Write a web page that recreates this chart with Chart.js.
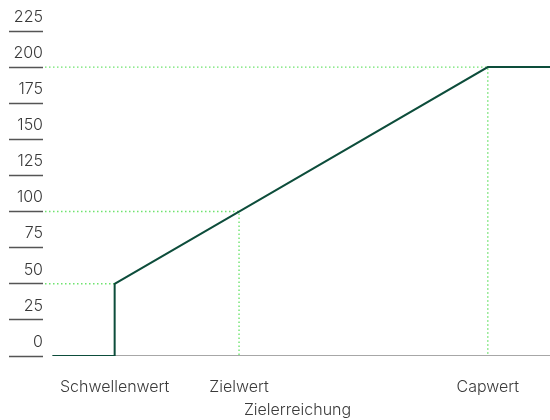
<!DOCTYPE html>
<html>
<head>
<meta charset="utf-8">
<script src="https://cdn.jsdelivr.net/npm/chart.js@4/dist/chart.umd.min.js"></script>
<style>
  html, body { margin: 0; padding: 0; background: #fff; }
  #wrap { width: 550px; height: 420px; }
</style>
</head>
<body>
<div id="wrap"><canvas id="myChart"></canvas></div>
<script>
// Zielerreichung (x, in %) and Auszahlung (y, in %)
const curveX = [25, 50, 50, 100, 200, 225];
const curveY = [0, 0, 50, 100, 200, 200];

// named points on the x axis
const tickValues = [50, 100, 200];
const tickLabels = ["Schwellenwert", "Zielwert", "Capwert"];

// y axis ticks
const yTicks = [0, 25, 50, 75, 100, 125, 150, 175, 200, 225];

// dotted helper lines start at the left edge of the plot
const xStart = 22;
const xEnd = 225;

const lineGreen = "#0d4d3b";
const guideGreen = "#6ee36e";
const fontFamily = "Inter, 'Liberation Sans', sans-serif";

function toPoints(xs, ys) {
  const pts = [];
  for (let i = 0; i < xs.length; i++) {
    pts.push({ x: xs[i], y: ys[i] });
  }
  return pts;
}

// guide lines: from the y axis to the point and down to the x axis
function guide(xv, yv, vertical) {
  const pts = [{ x: xStart, y: yv }, { x: xv, y: yv }];
  if (vertical) pts.push({ x: xv, y: 0 });
  return {
    data: pts,
    borderColor: guideGreen,
    borderWidth: 1.4,
    borderDash: [1.5, 2.5],
    pointRadius: 0,
    fill: false,
    order: 3,
  };
}

const datasets = [
  {
    label: "Auszahlung",
    data: toPoints(curveX, curveY),
    borderColor: lineGreen,
    borderWidth: 2,
    pointRadius: 0,
    fill: false,
    tension: 0,
    order: 1,
  },
  // base line of the x axis, only under the curve
  {
    data: [{ x: curveX[0], y: 0 }, { x: curveX[curveX.length - 1], y: 0 }],
    borderColor: "#8a8a8a",
    borderWidth: 1.5,
    pointRadius: 0,
    fill: false,
    order: 2,
  },
  guide(tickValues[0], curveY[2], false),
  guide(tickValues[1], curveY[3], true),
  guide(tickValues[2], curveY[4], true),
];

const config = {
  type: "line",
  data: { datasets },
  options: {
    responsive: true,
    maintainAspectRatio: false,
    animation: false,
    layout: { padding: { top: 31, right: 0, left: 0, bottom: 0 } },
    plugins: {
      legend: { display: false },
      tooltip: { enabled: false },
    },
    scales: {
      x: {
        type: "linear",
        min: xStart,
        max: xEnd,
        grid: { display: false, drawTicks: false },
        border: { display: false },
        afterBuildTicks: (axis) => {
          axis.ticks = tickValues.map((v) => ({ value: v }));
        },
        afterFit: (axis) => {
          axis.height = 64;
        },
        ticks: {
          autoSkip: false,
          maxRotation: 0,
          padding: 22,
          color: "#3a3a3a",
          font: { family: fontFamily, size: 16, weight: 300 },
          callback: (v) => {
            const i = tickValues.indexOf(v);
            return i >= 0 ? tickLabels[i] : "";
          },
        },
        title: {
          display: true,
          text: "Zielerreichung",
          color: "#3a3a3a",
          font: { family: fontFamily, size: 16, weight: 300 },
          padding: { top: 0, bottom: 0 },
        },
      },
      y: {
        min: 0,
        max: 225,
        afterBuildTicks: (axis) => {
          axis.ticks = yTicks.map((v) => ({ value: v }));
        },
        afterFit: (axis) => {
          axis.width = 45;
        },
        grid: {
          drawOnChartArea: false,
          drawTicks: true,
          tickLength: 36,
          tickWidth: 1.3,
          tickColor: "#555",
        },
        border: { display: true, width: 4, color: "rgba(0,0,0,0)" },
        ticks: {
          padding: -34,
          labelOffset: -14,
          color: "#3a3a3a",
          font: { family: fontFamily, size: 16, weight: 300 },
        },
      },
    },
  },
};

new Chart(document.getElementById("myChart"), config);
</script>
</body>
</html>
